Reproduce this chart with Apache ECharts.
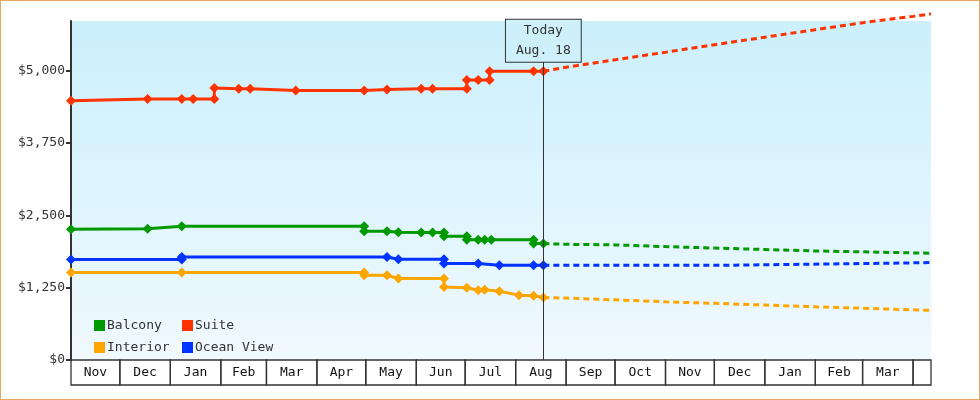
<!DOCTYPE html>
<html><head><meta charset="utf-8">
<script src="https://cdn.jsdelivr.net/npm/echarts@6/dist/echarts.min.js"></script>
<style>html,body{margin:0;padding:0;background:#fff}#c{width:978px;height:398px;border:1px solid #e8a860}</style>
</head><body><div id="c"></div>
<script>
// x values are days since Nov 1, 2022
const monthNames = ['Nov','Dec','Jan','Feb','Mar','Apr','May','Jun','Jul','Aug','Sep','Oct','Nov','Dec','Jan','Feb','Mar',''];
const monthStarts = [0,30,61,92,120,151,181,212,242,273,304,334,365,395,426,457,486,517];
const xEnd = 528;
const today = 290;
const yTicks = [0,1250,2500,3750,5000];

const suite = [[0,4480],[47,4510],[68,4510],[75,4510],[88,4510],[88,4700],[103,4690],[110,4690],[138,4660],[180,4660],[194,4675],[215,4690],[222,4690],[243,4690],[243,4840],[250,4840],[257,4840],[257,4990],[284,4990],[290,4990]];
const balcony = [[0,2260],[47,2270],[68,2310],[180,2310],[180,2224],[194,2224],[201,2207],[215,2205],[222,2205],[229,2205],[229,2138],[243,2138],[243,2080],[250,2080],[254,2080],[258,2080],[284,2080],[284,2012],[290,2012]];
const oceanView = [[0,1736],[68,1736],[68,1781],[194,1781],[201,1740],[229,1740],[229,1667],[250,1667],[263,1638],[284,1636],[290,1636]];
const interior = [[0,1512],[68,1512],[180,1512],[180,1466],[194,1466],[201,1408],[229,1408],[229,1264],[243,1250],[250,1207],[254,1215],[263,1190],[275,1121],[284,1110],[290,1081]];

const suiteF = [[290,4990],[304,5060],[334,5190],[365,5320],[395,5450],[426,5580],[457,5710],[486,5830],[517,5940],[528,5983]];
const balconyF = [[290,2012],[304,2000],[334,1990],[365,1960],[395,1935],[426,1910],[457,1885],[486,1870],[528,1845]];
const oceanF = [[290,1638],[408,1640],[409,1667],[487,1667],[488,1684],[528,1684]];
const interiorF = [[290,1081],[304,1070],[334,1040],[365,1005],[395,980],[426,950],[457,920],[486,895],[528,857]];

const C = {Balcony:'#009900', Suite:'#ff3300', Interior:'#ffa500', 'Ocean View':'#0033ff'};
const font = '"DejaVu Sans Mono", monospace';

function solid(name, data){
  return {name, type:'line', data, color:C[name], symbol:'diamond', symbolSize:10, z:3,
    lineStyle:{width:3, color:C[name]}, itemStyle:{color:C[name]}, clip:false, animation:false};
}
function dashed(name, data){
  return {name:name+' forecast', type:'line', data, symbol:'none', z:2,
    lineStyle:{width:3, type:[6,4], color:C[name]}, clip:false, animation:false};
}
const boxes = monthStarts.map((s,i)=>[s, i+1<monthStarts.length?monthStarts[i+1]:xEnd, monthNames[i]]);
const legendBase = {orient:'vertical', top:313, icon:'rect', itemWidth:11, itemHeight:11, itemGap:9, selectedMode:false,
    textStyle:{fontFamily:font, fontSize:13, color:'#333', padding:[0,0,0,-3]}};

const chart = echarts.init(document.getElementById('c'));
chart.setOption({
  animation:false,
  grid:{left:70, right:48, top:20, bottom:39, show:true, borderWidth:0,
    backgroundColor:{type:'linear',x:0,y:0,x2:0,y2:1,colorStops:[{offset:0,color:'#cbf0fc'},{offset:1,color:'#f0f9fe'}]}},
  legend:[Object.assign({data:['Balcony','Interior'], left:88}, legendBase),
          Object.assign({data:['Suite','Ocean View'], left:176}, legendBase)],
  xAxis:{type:'value', min:0, max:xEnd, show:false},
  yAxis:{type:'value', min:0, max:5860,
    axisLine:{show:true, lineStyle:{color:'#333', width:2}},
    axisTick:{show:true, length:5, customValues:yTicks, lineStyle:{color:'#333', width:2}},
    splitLine:{show:false},
    axisLabel:{fontFamily:font, fontSize:13, color:'#333', margin:6, customValues:yTicks,
      formatter:v=> '$'+v.toLocaleString('en-US')}},
  series:[
    solid('Balcony', balcony), solid('Suite', suite), solid('Interior', interior), solid('Ocean View', oceanView),
    dashed('Balcony', balconyF), dashed('Suite', suiteF), dashed('Interior', interiorF), dashed('Ocean View', oceanF),
    {type:'line', data:[], markLine:{silent:true, symbol:'none', label:{show:false},
        lineStyle:{color:'#333', width:1, type:'solid'}, data:[{xAxis:today}]},
     markPoint:{symbol:'rect', symbolSize:0, data:[{coord:[today,5520]}],
        label:{show:true, formatter:'Today\nAug. 18', fontFamily:font, fontSize:13, color:'#333', lineHeight:20,
          backgroundColor:'#cdf0fb', borderColor:'#333', borderWidth:1, padding:[2,10,0,10], align:'center'}}},
    {type:'custom', data:boxes, clip:false, z:5, silent:true,
      renderItem:(params, api)=>{
        const a = api.coord([api.value(0),0]), b = api.coord([api.value(1),0]);
        return {type:'group', children:[
          {type:'rect', shape:{x:a[0], y:a[1], width:b[0]-a[0], height:25}, style:{fill:'none', stroke:'#333', lineWidth:1.3}},
          {type:'text', style:{text:boxes[params.dataIndex][2], x:(a[0]+b[0])/2, y:a[1]+13, align:'center', verticalAlign:'middle', font:'13px '+font, fill:'#111'}}
        ]};
      }}
  ]
});
</script></body></html>
